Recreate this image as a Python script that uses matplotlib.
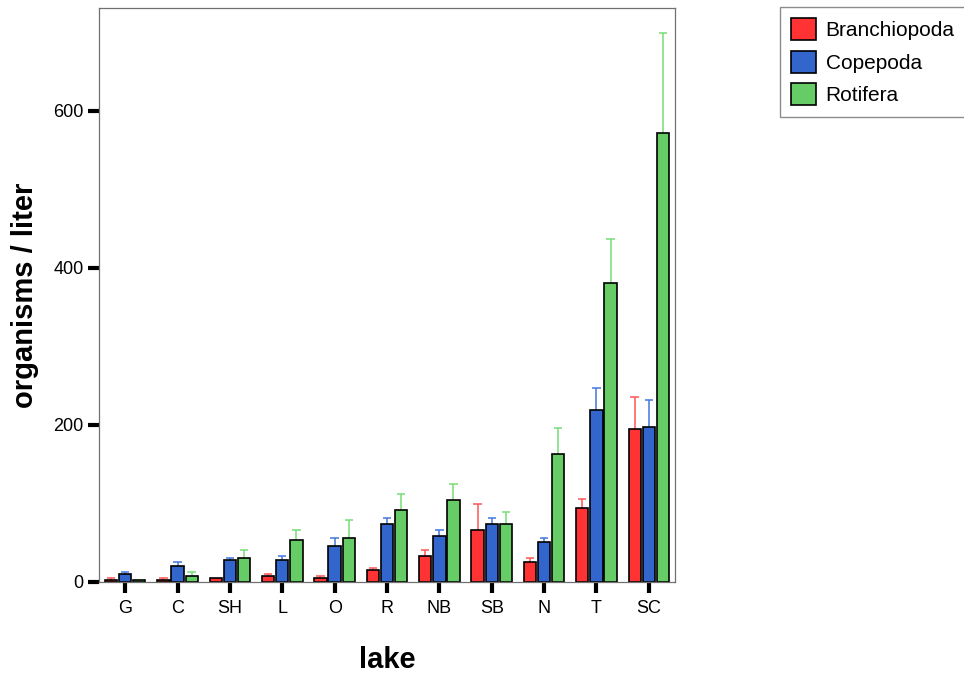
import matplotlib
matplotlib.use("Agg")
import matplotlib.pyplot as plt
import numpy as np

plt.rcParams['font.family'] = ['Liberation Sans', 'DejaVu Sans']

lakes = ['G', 'C', 'SH', 'L', 'O', 'R', 'NB', 'SB', 'N', 'T', 'SC']
groups = ['Branchiopoda', 'Copepoda', 'Rotifera']
colors = ['#ff3333', '#3366cc', '#66cc66']
err_colors = ['#ff5555', '#4477dd', '#77dd77']

branchiopoda = [2.5, 2.5, 5, 7.6, 5, 15.3, 33, 66, 25, 94, 195]
branchiopoda_err = [2.2, 2.2, 0, 2.6, 2.6, 2.5, 7.3, 33, 5.2, 12.3, 41]
copepoda = [9.8, 20.4, 28, 28, 46, 74, 58.6, 73.4, 51, 218.7, 198]
copepoda_err = [2.9, 5.1, 2, 5, 9.8, 7, 7.6, 7.6, 5, 28, 33.5]
rotifera = [3, 7.6, 30.2, 53.5, 56, 91.3, 104.5, 73.4, 162.6, 381, 571.6]
rotifera_err = [0, 5.1, 10.6, 12.3, 22.6, 20.4, 20, 15.3, 33.2, 56, 127.4]

means = [branchiopoda, copepoda, rotifera]
errs = [branchiopoda_err, copepoda_err, rotifera_err]

fig = plt.figure(figsize=(9.64, 6.75), dpi=100)
ax = fig.add_axes([0.1027, 0.1378, 0.5975, 0.8502])

x = np.arange(len(lakes))
w = 0.235
offs = [-0.27, 0, 0.27]
for m, e, c, ec, o, name in zip(means, errs, colors, err_colors, offs, groups):
    m = np.array(m)
    e = np.array(e)
    xs = x + o
    # upper whiskers only, drawn behind the bars
    has = e > 0
    ax.vlines(xs[has], m[has], m[has] + e[has], color=ec, lw=1.1, zorder=1)
    ax.hlines(m[has] + e[has], xs[has] - 0.08, xs[has] + 0.08, color=ec, lw=1.1, zorder=1)
    ax.bar(xs, m, width=w, color=c, edgecolor='black', linewidth=1.2, label=name, zorder=2)

ax.set_xlim(-0.5, len(lakes) - 0.5)
ax.set_ylim(0, 731)
ax.set_xticks(x)
ax.set_xticklabels(lakes)
ax.set_yticks([0, 200, 400, 600])
ax.tick_params(axis='both', length=8, width=3, color='black', labelsize=13, pad=3)
ax.tick_params(axis='x', pad=5)

for s in ax.spines.values():
    s.set_color('#707070')
    s.set_linewidth(0.9)

ax.set_ylabel('organisms / liter', fontsize=21, fontweight='bold')
ax.set_xlabel('lake', fontsize=21, fontweight='bold')
ax.yaxis.set_label_coords(-0.105, 0.5)
ax.xaxis.set_label_coords(0.5, -0.112)

fig.legend(loc='upper left', bbox_to_anchor=(0.809, 0.99), frameon=True, fancybox=False,
           edgecolor='#707070', fontsize=15, handlelength=1.2, handleheight=1.25,
           handletextpad=0.45, labelspacing=0.5, borderpad=0.55, borderaxespad=0)

fig.savefig('out.png', dpi=100)
